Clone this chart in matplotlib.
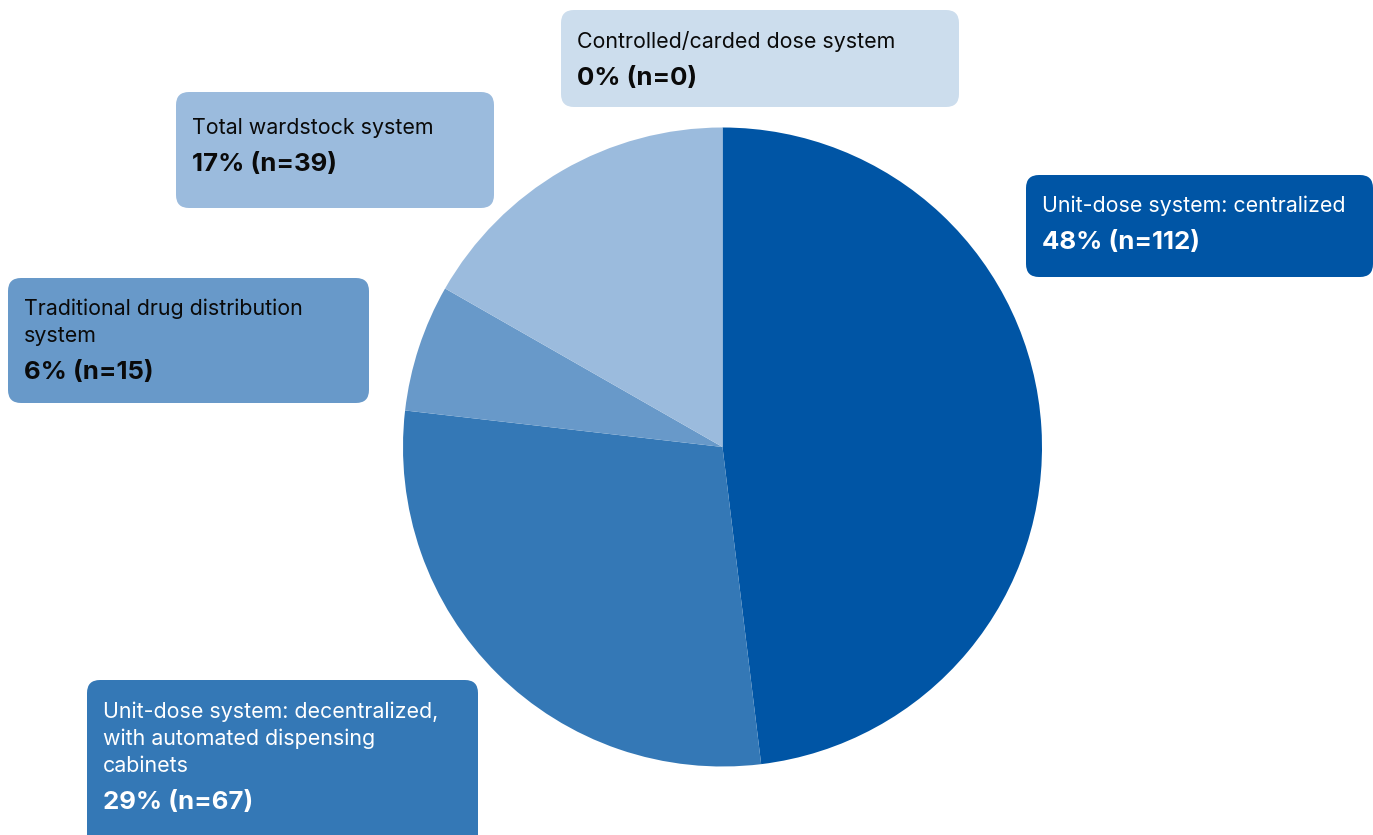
import matplotlib.pyplot as plt
from matplotlib.patches import FancyBboxPatch

plt.rcParams['font.family'] = ['Inter', 'DejaVu Sans']

# distribution systems, clockwise from 12 o'clock
labels = ["Unit-dose system: centralized",
          "Unit-dose system: decentralized,\nwith automated dispensing\ncabinets",
          "Traditional drug distribution\nsystem",
          "Total wardstock system",
          "Controlled/carded dose system"]
counts = [112, 67, 15, 39, 0]
percents = [48, 29, 6, 17, 0]
colors = ["#0055a5", "#3478b6", "#6899c9", "#9bbbdd", "#ccdded"]
text_colors = ["white", "white", "#0a0a0a", "#0a0a0a", "#0a0a0a"]

# callout boxes in pixel units: left, top, right, bottom
boxes = [(1026, 175, 1373, 277),
         (87, 680, 478, 850),
         (8, 278, 369, 403),
         (176, 92, 494, 208),
         (561, 10, 959, 107)]
first_baseline = [212, 718, 315, 134, 48]

W, H = 1373, 835
fig = plt.figure(figsize=(W / 100, H / 100), dpi=100)
ax = fig.add_axes([0, 0, 1, 1])

ax.pie(counts, colors=colors, startangle=90, counterclock=False,
       center=(722.5, H - 447), radius=319.5,
       wedgeprops=dict(linewidth=0))

line_gap = 27
for lab, n, p, col, tc, (l, t, r, b), y0 in zip(labels, counts, percents, colors,
                                                text_colors, boxes, first_baseline):
    box = FancyBboxPatch((l, H - b), r - l, b - t,
                         boxstyle="round,pad=0,rounding_size=13",
                         facecolor=col, edgecolor="none", zorder=3)
    ax.add_patch(box)
    lines = lab.split("\n")
    for i, s in enumerate(lines):
        ax.text(l + 16, H - (y0 + i * line_gap), s, fontsize=15.4, color=tc,
                va="baseline", ha="left", zorder=4)
    yb = y0 + (len(lines) - 1) * line_gap + 37
    ax.text(l + 16, H - yb, f"{p}% (n={n})", fontsize=18.6, fontweight="bold",
            color=tc, va="baseline", ha="left", zorder=4)

ax.set_xlim(0, W)
ax.set_ylim(0, H)
ax.set_aspect("equal")
ax.axis("off")

fig.savefig("out.png", dpi=100)
